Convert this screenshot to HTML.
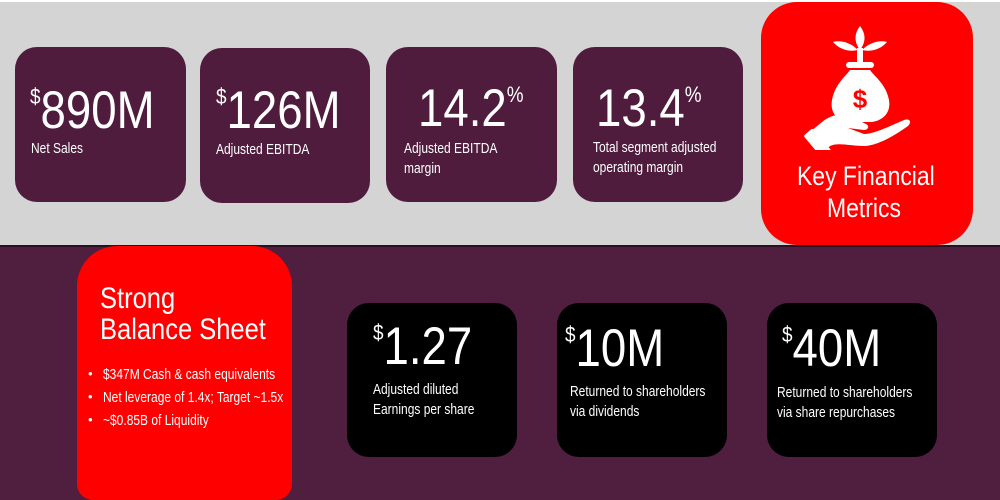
<!DOCTYPE html>
<html style="overflow:hidden;width:1000px;height:500px"><head><meta charset="utf-8"><style>
*{margin:0;padding:0;box-sizing:border-box}
body{width:1000px;height:500px;overflow:hidden;position:relative;background:#fff;font-family:"Liberation Sans",sans-serif;color:#fff}
.abs{position:absolute}
.t{position:absolute;white-space:nowrap;transform:scaleX(0.85);transform-origin:left top;line-height:1}
.card{position:absolute;background:#501c3d;border-radius:22px}
.blk{position:absolute;background:#000;border-radius:22px}
.big{font-size:53px;font-weight:300;transform:scaleX(0.86)}
.sup{font-size:22px;vertical-align:top;position:relative;top:2px}
.lab{font-size:15px;line-height:20px;transform:scaleX(0.8)}
</style></head><body>
<div class="abs" style="left:0;top:2px;width:1000px;height:243px;background:#d4d4d4"></div>
<div class="abs" style="left:0;top:245px;width:1000px;height:2px;background:#2a1020"></div>
<div class="abs" style="left:0;top:247px;width:1000px;height:253px;background:#501e3f"></div>

<div class="card" style="left:15px;top:47px;width:171px;height:155px"></div>
<div class="t big" style="left:30px;top:84px"><span class="sup">$</span>890M</div>
<div class="t lab" style="left:31px;top:139px">Net Sales</div>

<div class="card" style="left:200px;top:48px;width:170px;height:155px"></div>
<div class="t big" style="left:216px;top:84px"><span class="sup">$</span>126M</div>
<div class="t lab" style="left:216px;top:140px">Adjusted EBITDA</div>

<div class="card" style="left:386px;top:47px;width:171px;height:155px"></div>
<div class="t big" style="left:418px;top:82px">14.2<span class="sup">%</span></div>
<div class="t lab" style="left:404px;top:139px">Adjusted EBITDA<br>margin</div>

<div class="card" style="left:573px;top:47px;width:170px;height:155px"></div>
<div class="t big" style="left:596px;top:82px">13.4<span class="sup">%</span></div>
<div class="t lab" style="left:593px;top:138px">Total segment adjusted<br>operating margin</div>

<div class="abs" style="left:761px;top:2px;width:212px;height:243px;background:#ff0000;border-radius:36px"></div>
<svg class="abs" style="left:800px;top:20px" width="120" height="130" viewBox="0 0 120 130">
<g fill="#fff">
<path d="M60 6 C54 14 54 22 60 30 C66 22 66 14 60 6Z"/>
<path d="M58 30 C50 22 40 20 33 22 C40 30 50 32 58 30Z"/>
<path d="M62 30 C70 22 80 20 87 22 C80 30 70 32 62 30Z"/>
<rect x="57" y="28" width="6" height="16"/>
<rect x="46" y="42" width="28" height="6" rx="3"/>
<path d="M50 50 L70 50 C74 56 86 64 89 80 C91 92 84 100 72 102 L48 102 C36 100 30 92 32 80 C35 64 46 56 50 50Z"/>
<path d="M10 112 L22 102 C32 94 44 92 54 98 L66 104 C70 106 68 110 64 110 L48 108 L64 114 C74 114 90 106 104 100 C110 98 112 102 108 106 C94 116 80 124 66 126 C50 126 38 122 30 126 L22 134Z"/>
<rect x="2" y="112" width="12" height="34" rx="2" transform="rotate(-40 8 112)"/>
</g>
<text x="60" y="88" fill="#ff0000" font-size="26" font-weight="bold" text-anchor="middle" font-family="Liberation Sans">$</text>
</svg>
<div class="t" style="left:797px;top:160px;font-size:27px;line-height:32px">Key Financial</div>
<div class="t" style="left:827px;top:192px;font-size:27px;line-height:32px">Metrics</div>

<div class="abs" style="left:77px;top:246px;width:215px;height:254px;background:#ff0000;border-radius:40px 40px 16px 16px"></div>
<div class="t" style="left:100px;top:283px;font-size:30px;line-height:31px">Strong<br>Balance Sheet</div>
<div class="abs" style="left:88px;top:362px;font-size:13px;line-height:23px">•<br>•<br>•</div>
<div class="t lab" style="left:103px;top:363px;line-height:23px">$347M Cash &amp; cash equivalents<br>Net leverage of 1.4x; Target ~1.5x<br>~$0.85B of Liquidity</div>

<div class="blk" style="left:347px;top:303px;width:170px;height:154px"></div>
<div class="t big" style="left:373px;top:320px"><span class="sup">$</span>1.27</div>
<div class="t lab" style="left:373px;top:380px">Adjusted diluted<br>Earnings per share</div>

<div class="blk" style="left:557px;top:303px;width:170px;height:154px"></div>
<div class="t big" style="left:565px;top:322px"><span class="sup">$</span>10M</div>
<div class="t lab" style="left:570px;top:382px">Returned to shareholders<br>via dividends</div>

<div class="blk" style="left:767px;top:303px;width:170px;height:154px"></div>
<div class="t big" style="left:782px;top:322px"><span class="sup">$</span>40M</div>
<div class="t lab" style="left:777px;top:383px">Returned to shareholders<br>via share repurchases</div>
</body></html>
